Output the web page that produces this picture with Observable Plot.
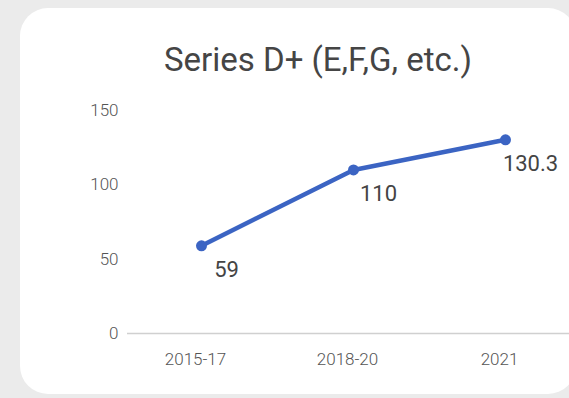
<!DOCTYPE html>
<html>
<head>
<meta charset="utf-8">
<script src="https://cdn.jsdelivr.net/npm/d3@7"></script>
<script src="https://cdn.jsdelivr.net/npm/@observablehq/plot@0.6"></script>
<style>
  html, body { margin: 0; padding: 0; width: 569px; height: 398px; overflow: hidden; background: #ebebeb; font-family: Roboto, "Noto Sans", sans-serif; }
  #card { position: absolute; left: 20px; top: 8px; width: 556px; height: 386px; background: #fff; border-radius: 28px; }
  #title { position: absolute; left: 44px; top: 40px; width: 548px; text-align: center; font-size: 33px; font-weight: 400; color: #454545; line-height: 40px; }
  #chart { position: absolute; left: 0; top: 88px; }
</style>
</head>
<body>
<div id="card"></div>
<div id="title">Series D+ (E,F,G, etc.)</div>
<div id="chart"></div>
<script>
const periods = ["2015-17", "2018-20", "2021"];
const values = [59, 110, 130.3];
const labels = ["59", "110", "130.3"];
const yTicks = [0, 50, 100, 150];

const data = periods.map((p, i) => ({period: p, value: values[i], label: labels[i]}));

const plot = Plot.plot({
  width: 569,
  height: 310,
  marginLeft: 127,
  marginRight: 0,
  marginTop: 22,
  marginBottom: 65,
  style: {background: "transparent", fontFamily: "Roboto, 'Noto Sans', sans-serif", color: "#555"},
  x: {type: "point", domain: periods, range: [201, 505], padding: 0, label: null},
  y: {domain: [0, 150], label: null},
  marks: [
    Plot.ruleY([0], {stroke: "#d0d0d0", strokeWidth: 1.5}),
    Plot.axisY({ticks: yTicks, tickSize: 0, tickPadding: 9, label: null, fill: "#555", fontSize: 17, fontWeight: 300}),
    Plot.axisX({tickSize: 0, tickPadding: 19, dx: -6, label: null, fill: "#555", fontSize: 17, fontWeight: 300}),
    Plot.line(data, {x: "period", y: "value", stroke: "#3b64c3", strokeWidth: 4.5, strokeLinecap: "round", strokeLinejoin: "round"}),
    Plot.dot(data, {x: "period", y: "value", r: 5.5, fill: "#3b64c3"}),
    Plot.text(data, {x: "period", y: "value", text: "label", dx: 25, dy: 24, fontSize: 22, fill: "#444", textAnchor: "middle"})
  ]
});
document.getElementById("chart").appendChild(plot);
</script>
</body>
</html>
